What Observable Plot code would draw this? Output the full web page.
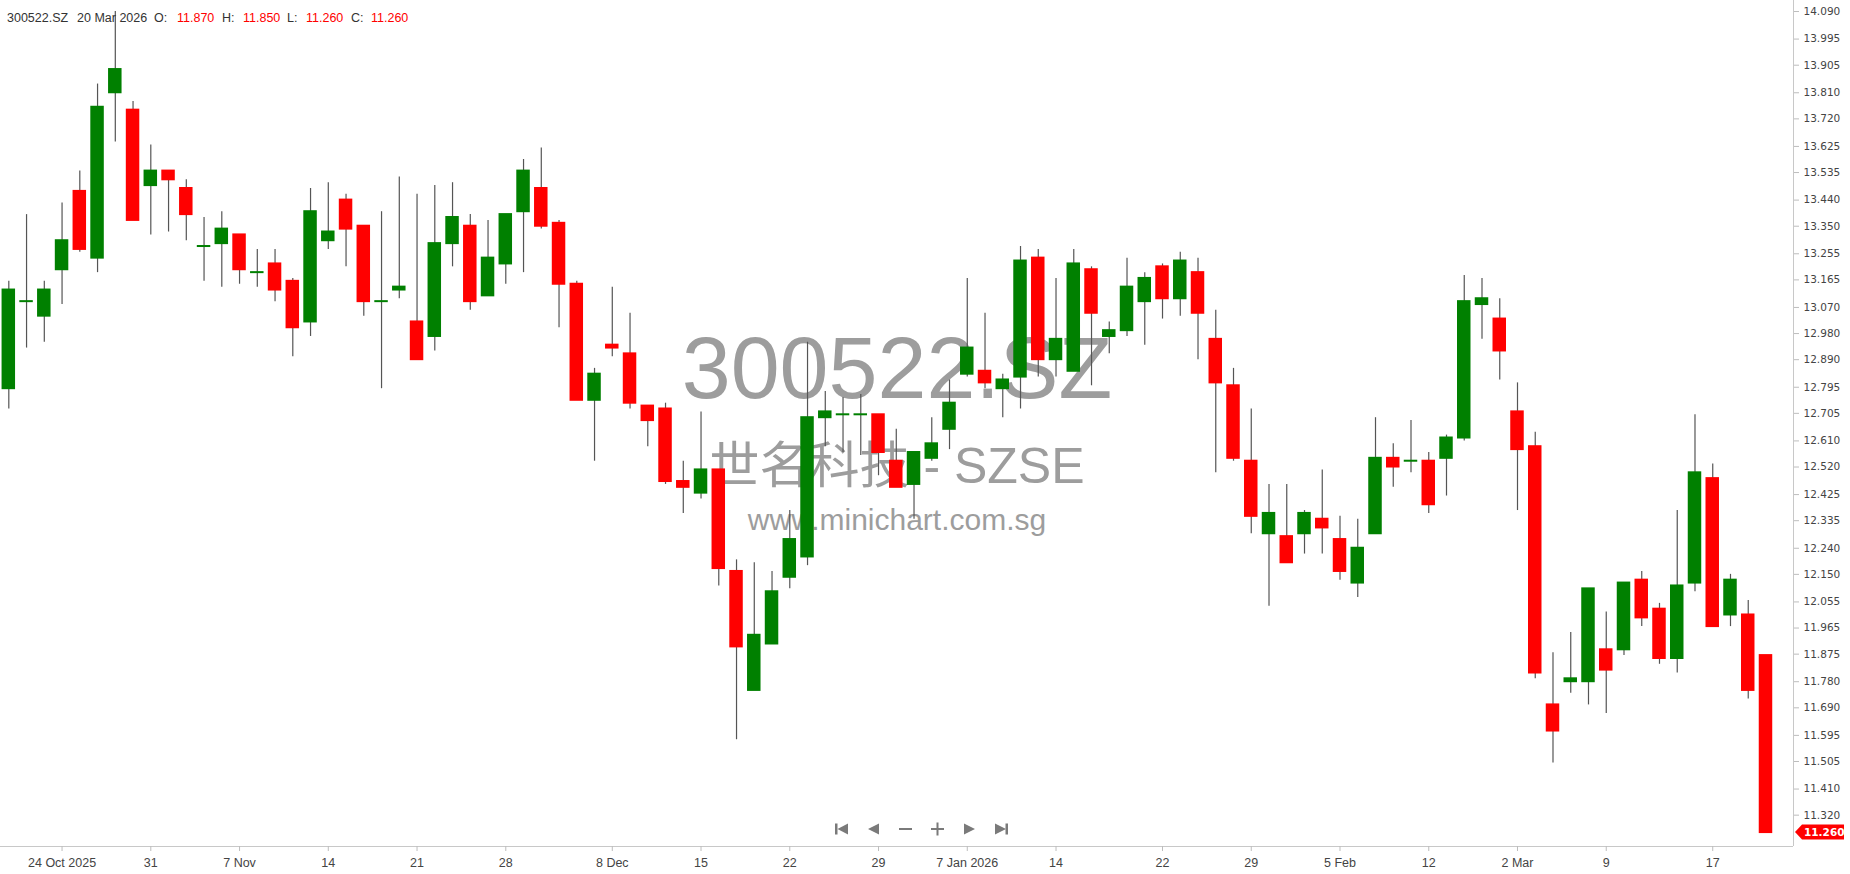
<!DOCTYPE html>
<html><head><meta charset="utf-8">
<script src="https://cdn.jsdelivr.net/npm/d3@7"></script>
<script src="https://cdn.jsdelivr.net/npm/@observablehq/plot@0.6"></script>
<style>
html,body{margin:0;padding:0;background:#fff;}
#wrap{position:relative;width:1850px;height:874px;overflow:hidden;}
#hdr{position:absolute;left:0;top:0;width:600px;height:30px;font:12.5px "Liberation Sans",Arial,sans-serif;color:#333;z-index:2;}
#hdr span{position:absolute;top:11px;line-height:14px;white-space:nowrap;}
#hdr .red{color:#ff0000;}
#nav{position:absolute;left:0;top:0;z-index:2;pointer-events:none;}
</style></head>
<body><div id="wrap"><div id="chart"></div>
<div id="hdr"></div>
<svg id="nav" width="1850" height="874"></svg>
</div>
<script>
const symbol = "300522.SZ";
const nameLine = "世名科技 - SZSE";
const site = "www.minichart.com.sg";

const dates = [
"2025-10-21","2025-10-22","2025-10-23","2025-10-24","2025-10-27","2025-10-28","2025-10-29","2025-10-30","2025-10-31",
"2025-11-03","2025-11-04","2025-11-05","2025-11-06","2025-11-07","2025-11-10","2025-11-11","2025-11-12","2025-11-13","2025-11-14",
"2025-11-17","2025-11-18","2025-11-19","2025-11-20","2025-11-21","2025-11-24","2025-11-25","2025-11-26","2025-11-27","2025-11-28",
"2025-12-01","2025-12-02","2025-12-03","2025-12-04","2025-12-05","2025-12-08","2025-12-09","2025-12-10","2025-12-11","2025-12-12",
"2025-12-15","2025-12-16","2025-12-17","2025-12-18","2025-12-19","2025-12-22","2025-12-23","2025-12-24","2025-12-25","2025-12-26",
"2025-12-29","2025-12-30","2025-12-31",
"2026-01-05","2026-01-06","2026-01-07","2026-01-08","2026-01-09","2026-01-12","2026-01-13","2026-01-14","2026-01-15","2026-01-16",
"2026-01-19","2026-01-20","2026-01-21","2026-01-22","2026-01-23","2026-01-26","2026-01-27","2026-01-28","2026-01-29","2026-01-30",
"2026-02-02","2026-02-03","2026-02-04","2026-02-05","2026-02-06","2026-02-09","2026-02-10","2026-02-11","2026-02-12","2026-02-13",
"2026-02-25","2026-02-26","2026-02-27",
"2026-03-02","2026-03-03","2026-03-04","2026-03-05","2026-03-06","2026-03-09","2026-03-10","2026-03-11","2026-03-12","2026-03-13",
"2026-03-16","2026-03-17","2026-03-18","2026-03-19","2026-03-20"];

const open = [12.79,13.09,13.04,13.20,13.47,13.24,13.81,13.75,13.49,13.54,
13.48,13.28,13.29,13.32,13.19,13.22,13.16,13.02,13.30,13.44,
13.35,13.09,13.13,13.02,12.97,13.29,13.35,13.11,13.22,13.40,
13.48,13.36,13.15,12.75,12.94,12.91,12.73,12.72,12.47,12.43,
12.51,12.16,11.75,11.91,12.14,12.21,12.69,12.70,12.70,12.70,
12.54,12.46,12.55,12.65,12.84,12.85,12.79,12.83,13.24,12.89,
12.85,13.20,12.97,12.99,13.09,13.21,13.10,13.19,12.96,12.80,
12.54,12.29,12.28,12.29,12.34,12.27,12.12,12.29,12.55,12.54,
12.54,12.55,12.62,13.08,13.03,12.71,12.59,11.70,11.78,11.78,
11.89,11.89,12.13,12.03,11.86,12.12,12.48,12.01,12.01,11.87];
const high = [13.16,13.39,13.16,13.43,13.54,13.84,14.09,13.78,13.63,13.54,
13.51,13.38,13.40,13.32,13.27,13.27,13.17,13.48,13.50,13.46,
13.35,13.40,13.52,13.46,13.49,13.50,13.39,13.37,13.39,13.58,
13.62,13.37,13.16,12.86,13.14,13.05,12.73,12.74,12.54,12.71,
12.51,12.20,12.19,12.16,12.37,12.95,12.78,12.76,12.77,12.70,
12.65,12.57,12.69,12.82,13.17,13.05,12.84,13.28,13.27,13.17,
13.27,13.21,13.02,13.24,13.19,13.22,13.26,13.24,13.06,12.86,
12.72,12.46,12.46,12.37,12.51,12.35,12.34,12.69,12.60,12.68,
12.57,12.63,13.18,13.17,13.10,12.81,12.64,11.88,11.95,12.10,
12.02,12.12,12.16,12.05,12.37,12.70,12.53,12.15,12.06,11.85];
const low = [12.72,12.93,12.95,13.08,13.26,13.19,13.64,13.37,13.32,13.33,
13.30,13.16,13.14,13.15,13.14,13.09,12.90,12.97,13.27,13.21,
13.04,12.79,13.10,12.89,12.92,13.21,13.06,13.11,13.15,13.19,
13.34,13.00,12.75,12.54,12.90,12.72,12.59,12.46,12.36,12.41,
12.11,11.58,11.75,11.91,12.10,12.18,12.59,12.57,12.56,12.49,
12.45,12.34,12.54,12.58,12.83,12.79,12.69,12.72,12.83,12.83,
12.85,12.80,12.91,12.97,12.94,13.03,13.04,12.89,12.50,12.54,
12.29,12.04,12.19,12.22,12.22,12.13,12.07,12.29,12.45,12.50,
12.36,12.42,12.61,12.96,12.82,12.37,11.79,11.50,11.74,11.70,
11.67,11.87,11.97,11.84,11.81,12.09,11.97,11.97,11.72,11.26];
const close = [13.13,13.09,13.13,13.30,13.27,13.76,13.89,13.37,13.54,13.51,
13.39,13.28,13.34,13.20,13.19,13.13,13.00,13.40,13.33,13.34,
13.09,13.09,13.14,12.89,13.29,13.38,13.09,13.24,13.39,13.54,
13.35,13.15,12.75,12.84,12.93,12.74,12.68,12.47,12.45,12.51,
12.17,11.90,11.94,12.09,12.27,12.69,12.71,12.70,12.70,12.57,
12.45,12.57,12.60,12.74,12.93,12.81,12.82,13.23,12.89,12.96,
13.22,13.05,12.99,13.14,13.17,13.10,13.23,13.05,12.81,12.55,
12.35,12.36,12.19,12.36,12.31,12.16,12.24,12.55,12.52,12.54,
12.39,12.62,13.09,13.10,12.92,12.58,11.81,11.61,11.79,12.10,
11.82,12.12,12.00,11.86,12.11,12.50,11.97,12.13,11.75,11.26];

const tickDates = ["2025-10-24","2025-10-31","2025-11-07","2025-11-14","2025-11-21","2025-11-28","2025-12-08","2025-12-15","2025-12-22","2025-12-29","2026-01-07","2026-01-14","2026-01-22","2026-01-29","2026-02-05","2026-02-12","2026-03-02","2026-03-09","2026-03-17"];
const tickLabels = ["24 Oct 2025","31","7 Nov","14","21","28","8 Dec","15","22","29","7 Jan 2026","14","22","29","5 Feb","12","2 Mar","9","17"];
const yTicks = [14.090,13.995,13.905,13.810,13.720,13.625,13.535,13.440,13.350,13.255,13.165,13.070,12.980,12.890,12.795,12.705,12.610,12.520,12.425,12.335,12.240,12.150,12.055,11.965,11.875,11.780,11.690,11.595,11.505,11.410,11.320];

const data = dates.map((d, i) => ({i, date: d, open: open[i], high: high[i], low: low[i], close: close[i]}));
const last = data[data.length - 1];
const tickIdx = tickDates.map(d => dates.indexOf(d));
const labelOf = new Map(tickIdx.map((k, j) => [k, tickLabels[j]]));

const xDomain = [-0.468, 100.55];
const yDomain = [11.212, 14.128];
const UP = "#008000", DOWN = "#ff0000";

const plot = Plot.plot({
  width: 1850, height: 874,
  marginLeft: 0, marginRight: 57, marginTop: 0, marginBottom: 28,
  style: {fontFamily: "'Liberation Sans', Arial, sans-serif", background: "#fff", overflow: "visible"},
  x: {domain: xDomain, axis: null, label: null},
  y: {domain: yDomain, axis: null, label: null},
  marks: [
    Plot.text([symbol], {frameAnchor: "top", lineAnchor: "middle", dy: 369, fontSize: 88, fill: "#9d9d9d", fontFamily: "'Liberation Sans', Arial, sans-serif"}),
    Plot.text([nameLine], {frameAnchor: "top", lineAnchor: "middle", dy: 466, fontSize: 50, fill: "#9d9d9d", fontFamily: "'Liberation Sans', 'Noto Sans CJK SC', sans-serif"}),
    Plot.text([site], {frameAnchor: "top", lineAnchor: "middle", dy: 520, fontSize: 30, fill: "#9d9d9d", fontFamily: "'Liberation Sans', Arial, sans-serif"}),
    Plot.ruleY([yDomain[0]], {stroke: "#c8c8c8"}),
    Plot.ruleX([xDomain[1]], {stroke: "#c8c8c8"}),
    Plot.axisY(yTicks, {anchor: "right", label: null, tickSize: 5, tickPadding: 5, stroke: "#bdbdbd", fill: "#444", fontSize: 10.5, fontFamily: "'DejaVu Sans', Verdana, sans-serif", tickFormat: d => d.toFixed(3), textAnchor: "start"}),
    Plot.axisX(tickIdx, {anchor: "bottom", label: null, tickSize: 5, tickPadding: 7, stroke: "#bdbdbd", fill: "#444", fontSize: 12.5, tickFormat: d => labelOf.get(d)}),
    Plot.ruleX(data, {x: "i", y1: "low", y2: "high", stroke: "#555", strokeWidth: 1.2}),
    Plot.rect(data, {x1: d => d.i - 0.38, x2: d => d.i + 0.38, y1: "open", y2: "close",
      fill: d => d.close >= d.open ? UP : DOWN, insetTop: -1, insetBottom: -1})
  ]
});
document.getElementById("chart").appendChild(plot);

// last price tag on the right axis
const yS = plot.scale("y"), xS = plot.scale("x");
const yc = yS.apply(last.close), xr = xS.range[1];
const g = d3.select(plot).append("g").attr("text-anchor", "start");
g.append("path")
  .attr("d", `M${xr + 2},${yc} L${xr + 9},${yc - 7.5} L${xr + 51},${yc - 7.5} L${xr + 51},${yc + 7.5} L${xr + 9},${yc + 7.5} Z`)
  .attr("fill", DOWN);
g.append("text").attr("x", xr + 11).attr("y", yc).attr("dy", "0.36em").attr("text-anchor", "start")
  .attr("fill", "#fff").attr("font-size", 10.5).attr("font-weight", "bold")
  .attr("font-family", "'DejaVu Sans', Verdana, sans-serif").text(last.close.toFixed(3));

// header
const hdrItems = [
  [7, symbol, ""], [77, "20 Mar 2026", ""], [154, "O:", ""], [177, last.open.toFixed(3), "red"],
  [222, "H:", ""], [243, last.high.toFixed(3), "red"], [287, "L:", ""], [306, last.low.toFixed(3), "red"],
  [351, "C:", ""], [371, last.close.toFixed(3), "red"]
];
const hdr = document.getElementById("hdr");
hdrItems.forEach(([x, t, c]) => {
  const s = document.createElement("span");
  s.style.left = x + "px"; s.textContent = t; if (c) s.className = c;
  hdr.appendChild(s);
});

// navigation buttons
const nav = d3.select("#nav").append("g").attr("fill", "#7a7a7a").attr("stroke", "none");
const cy = 829;
nav.append("rect").attr("x", 835).attr("y", cy - 5.5).attr("width", 2.5).attr("height", 11);
nav.append("path").attr("d", `M837.5,${cy} L848,${cy - 5.5} L848,${cy + 5.5} Z`);
nav.append("path").attr("d", `M868,${cy} L879,${cy - 5.5} L879,${cy + 5.5} Z`);
nav.append("rect").attr("x", 899).attr("y", cy - 1).attr("width", 13).attr("height", 2);
nav.append("rect").attr("x", 931).attr("y", cy - 1).attr("width", 13).attr("height", 2);
nav.append("rect").attr("x", 936.5).attr("y", cy - 6.5).attr("width", 2).attr("height", 13);
nav.append("path").attr("d", `M975,${cy} L964,${cy - 5.5} L964,${cy + 5.5} Z`);
nav.append("path").attr("d", `M1006,${cy} L995,${cy - 5.5} L995,${cy + 5.5} Z`);
nav.append("rect").attr("x", 1005.5).attr("y", cy - 5.5).attr("width", 2.5).attr("height", 11);
</script>
</body></html>
